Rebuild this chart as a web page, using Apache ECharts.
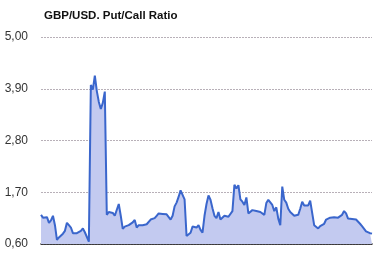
<!DOCTYPE html>
<html><head><meta charset="utf-8">
<script src="https://cdn.jsdelivr.net/npm/echarts@6/dist/echarts.min.js"></script>
<style>html,body{margin:0;padding:0;background:#fff}#c{width:379px;height:253px}</style>
</head><body><div id="c"></div>
<script>
var titleText = 'GBP/USD. Put/Call Ratio';
var yTicks = [0.6, 1.7, 2.8, 3.9, 5.0];
var ratio = [
1.22,1.16,1.14,1.17,1.05,1.10,1.20,1.00,0.69,0.74,
0.78,0.82,0.88,1.05,1.00,0.95,0.83,0.79,0.83,0.84,
0.88,0.93,0.85,0.86,0.65,3.98,3.88,4.18,3.85,3.62,
3.47,3.60,3.84,1.22,1.28,1.25,1.26,1.20,1.17,1.45,
1.20,0.92,0.97,0.98,1.00,1.02,1.06,1.11,0.95,1.00,
0.99,1.00,1.01,1.02,1.04,1.12,1.16,1.15,1.20,1.25,
1.22,1.24,1.20,1.23,1.20,1.12,1.20,1.40,1.48,1.60,
1.74,1.78,1.55,0.77,0.78,0.84,0.97,1.00,0.95,1.00,
0.90,0.84,1.20,1.45,1.63,1.54,1.36,1.20,1.15,1.28,
1.12,1.15,1.20,1.16,1.18,1.15,1.30,1.86,1.78,1.85,
1.55,1.50,1.43,1.59,1.25,1.24,1.32,1.28,1.30,1.30,
1.28,1.30,1.22,1.47,1.54,1.52,1.43,1.30,1.38,1.14,
1.00,1.82,1.54,1.48,1.35,1.28,1.25,1.20,1.18,1.22,
1.35,1.50,1.42,1.45,1.42,1.52,1.54,1.00,0.96,0.93,
0.98,0.97,1.03,1.12,1.10,1.16,1.12,1.17,1.15,1.16,
1.18,1.22,1.30,1.25,1.14,1.12,1.13,1.10,1.12,1.08,
1.03,0.98,0.95,0.87,0.85,0.83,0.82
];
var categories = ratio.map(function(v,i){return String(i+1);});

var chart = echarts.init(document.getElementById('c'), null, {renderer:'canvas'});
chart.setOption({
  animation:false,
  backgroundColor:'#ffffff',
  title:{text:titleText,left:39,top:5,textStyle:{fontFamily:'Liberation Sans, Arial, sans-serif',fontSize:11.5,fontWeight:'bold',color:'#111'}},
  grid:{left:41,right:7,top:37,bottom:9,containLabel:false},
  xAxis:{type:'category',data:categories,boundaryGap:false,
    axisLine:{show:true,onZero:false,lineStyle:{color:'#111',width:1.5}},
    axisTick:{show:false},axisLabel:{show:false},splitLine:{show:false}},
  yAxis:{type:'value',min:yTicks[0],max:yTicks[yTicks.length-1],interval:1.1,
    axisLine:{show:false},axisTick:{show:false},
    axisLabel:{margin:13,fontFamily:'Liberation Sans, Arial, sans-serif',fontSize:12,color:'#333',
      formatter:function(v){return v.toFixed(2).replace('.',',');}},
    splitLine:{show:true,lineStyle:{color:'#b8b0b8',type:[2,1],width:1}}},
  series:[{type:'line',data:ratio,symbol:'none',smooth:false,
    lineStyle:{color:'#3a66cc',width:2},
    areaStyle:{color:'#c3caf0',opacity:1}}]
});
</script></body></html>
